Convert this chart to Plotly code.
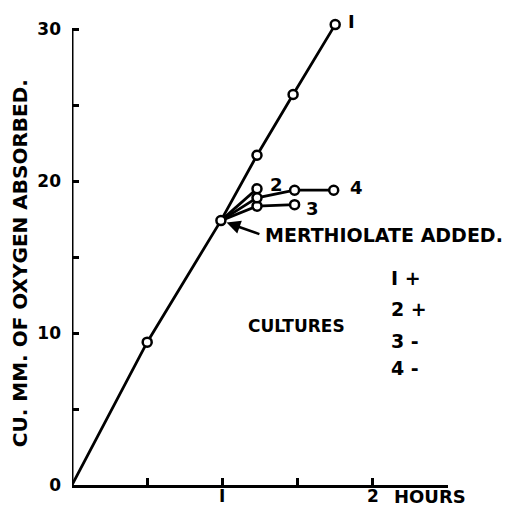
import plotly.graph_objects as go

# Data
c1_x = [0, 0.5, 0.99, 1.23, 1.47, 1.75]
c1_y = [0, 9.4, 17.4, 21.7, 25.7, 30.3]
c2_x = [0.99, 1.23]
c2_y = [17.4, 19.5]
c3_x = [0.99, 1.23, 1.48]
c3_y = [17.4, 18.35, 18.45]
c4_x = [0.99, 1.23, 1.48, 1.74]
c4_y = [17.4, 18.9, 19.4, 19.4]
y_ticks = [0, 5, 10, 15, 20, 25, 30]
y_ticklabels = ["0", "", "10", "", "20", "", "30"]
x_ticks = [0.5, 1, 1.5, 2]
legend_rows = ["I +", "2 +", "3 -", "4 -"]
Y_MAX = 30      # top of the drawn y axis
Y_VIEW = 30.8   # a little headroom so the last point shows

FONT = "DejaVu Sans"
fig = go.Figure()

line_style = dict(color="black", width=2.8)
marker_style = dict(symbol="circle", color="white", size=9,
                    line=dict(color="black", width=2.5))

for xs, ys in [(c2_x, c2_y), (c3_x, c3_y), (c4_x, c4_y)]:
    fig.add_trace(go.Scatter(x=xs, y=ys, mode="lines", line=line_style,
                             hoverinfo="skip", showlegend=False))
fig.add_trace(go.Scatter(x=c1_x, y=c1_y, mode="lines", line=line_style,
                         showlegend=False))
mx = c1_x[1:] + c2_x[1:] + c3_x[1:] + c4_x[1:]
my = c1_y[1:] + c2_y[1:] + c3_y[1:] + c4_y[1:]
fig.add_trace(go.Scatter(x=mx, y=my, mode="markers", marker=marker_style,
                         showlegend=False))

def f(size):
    return dict(family=FONT, size=size, color="black", weight="bold")

ann = []
ann.append(dict(x=1.86, y=30.5, text="I", showarrow=False, font=f(18)))
ann.append(dict(x=1.36, y=19.8, text="2", showarrow=False, font=f(18)))
ann.append(dict(x=1.89, y=19.6, text="4", showarrow=False, font=f(18)))
ann.append(dict(x=1.60, y=18.2, text="3", showarrow=False, font=f(18)))
# merthiolate arrow
ann.append(dict(x=c1_x[2], y=c1_y[2], ax=40, ay=14, axref="pixel", ayref="pixel",
                text="", showarrow=True, arrowhead=2, arrowsize=1.1, arrowwidth=2.5,
                arrowcolor="black", standoff=6))
ann.append(dict(x=1.27, y=16.45, text="MERTHIOLATE ADDED.", showarrow=False,
                xanchor="left", font=f(19)))
ann.append(dict(x=1.157, y=10.46, text="CULTURES", showarrow=False,
                xanchor="left", font=f(17)))
for lab, yy in zip(legend_rows, [13.6, 11.6, 9.5, 7.7]):
    ann.append(dict(x=2.11, y=yy, text=lab, showarrow=False, xanchor="left",
                    font=f(19)))
# x tick labels
ann.append(dict(x=1, y=0, text="I", showarrow=False, yanchor="top",
                yshift=1, font=f(17)))
ann.append(dict(x=2, y=0, text="2", showarrow=False, yanchor="top",
                yshift=1, font=f(17)))
ann.append(dict(x=2.13, y=0, text="HOURS", showarrow=False, yanchor="top",
                xanchor="left", yshift=1, font=f(18)))
# y title
ann.append(dict(x=-0.1383, y=0.474, xref="paper", yref="paper", textangle=-90,
                xanchor="center", yanchor="middle", borderpad=0,
                text="CU. MM. OF OXYGEN ABSORBED.", showarrow=False, font=f(20)))
fig.update_layout(annotations=ann)

# y axis line drawn only up to 30
fig.add_shape(type="line", xref="x", yref="y", x0=0, x1=0, y0=0, y1=Y_MAX,
              line=dict(color="black", width=3))

# page body has an 8px default margin; compensate so plot area sits at
# x 72..448, y(30) 29 .. y(0) 485 in the 514x506 window
fig.update_layout(
    width=506, height=498,
    margin=dict(l=64, r=66, t=9, b=21, autoexpand=False),
    plot_bgcolor="white", paper_bgcolor="white",
    font=dict(family=FONT, color="black"),
    xaxis=dict(range=[0, 2.5], showgrid=False, zeroline=False, showline=True,
               linecolor="black", linewidth=3, ticks="inside", ticklen=7,
               tickwidth=2.5, tickcolor="black", tickvals=x_ticks,
               showticklabels=False, fixedrange=True, automargin=False),
    yaxis=dict(range=[0, Y_VIEW], showgrid=False, zeroline=False, showline=False,
               ticks="inside", ticklen=7,
               tickwidth=2.5, tickcolor="black", tickvals=y_ticks,
               ticktext=y_ticklabels, tickfont=f(17),
               ticklabelstandoff=10, fixedrange=True, automargin=False),
)

fig.write_html("out.html")
